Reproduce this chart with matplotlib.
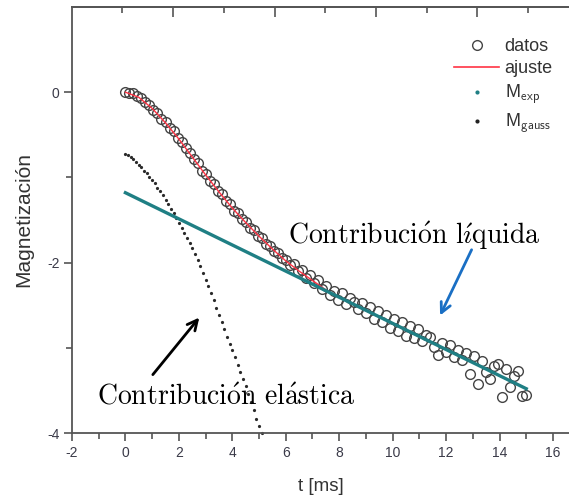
import matplotlib
matplotlib.use('Agg')
import matplotlib.pyplot as plt
from matplotlib.lines import Line2D

plt.rcParams['font.family'] = ['Liberation Sans', 'DejaVu Sans']
plt.rcParams['mathtext.fontset'] = 'cm'
plt.rcParams['axes.unicode_minus'] = False

# datos: t every 0.15 ms
t_datos = [0.00, 0.15, 0.30, 0.45, 0.60, 0.75, 0.90, 1.05, 1.20, 1.35,
           1.50, 1.65, 1.80, 1.95, 2.10, 2.25, 2.40, 2.55, 2.70, 2.85,
           3.00, 3.15, 3.30, 3.45, 3.60, 3.75, 3.90, 4.05, 4.20, 4.35,
           4.50, 4.65, 4.80, 4.95, 5.10, 5.25, 5.40, 5.55, 5.70, 5.85,
           6.00, 6.15, 6.30, 6.45, 6.60, 6.75, 6.90, 7.05, 7.20, 7.35,
           7.50, 7.65, 7.80, 7.95, 8.10, 8.25, 8.40, 8.55, 8.70, 8.85,
           9.00, 9.15, 9.30, 9.45, 9.60, 9.75, 9.90, 10.05, 10.20, 10.35,
           10.50, 10.65, 10.80, 10.95, 11.10, 11.25, 11.40, 11.55, 11.70, 11.85,
           12.00, 12.15, 12.30, 12.45, 12.60, 12.75, 12.90, 13.05, 13.20, 13.35,
           13.50, 13.65, 13.80, 13.95, 14.10, 14.25, 14.40, 14.55, 14.70, 14.85,
           15.00]
m_datos = [0.00, -0.01, -0.01, -0.05, -0.07, -0.12, -0.15, -0.21, -0.25, -0.31,
           -0.35, -0.42, -0.46, -0.54, -0.58, -0.66, -0.71, -0.79, -0.83, -0.92,
           -0.96, -1.04, -1.08, -1.16, -1.20, -1.28, -1.31, -1.39, -1.42, -1.49,
           -1.52, -1.59, -1.62, -1.69, -1.71, -1.78, -1.80, -1.86, -1.89, -1.95,
           -1.97, -2.03, -2.02, -2.10, -2.09, -2.18, -2.15, -2.24, -2.21, -2.31,
           -2.27, -2.38, -2.33, -2.44, -2.36, -2.49, -2.42, -2.46, -2.55, -2.48,
           -2.59, -2.52, -2.66, -2.57, -2.70, -2.61, -2.77, -2.66, -2.80, -2.70,
           -2.86, -2.74, -2.88, -2.78, -2.92, -2.85, -2.87, -2.99, -3.09, -2.94,
           -3.05, -2.97, -3.11, -3.02, -3.14, -3.06, -3.31, -3.10, -3.42, -3.15,
           -3.28, -3.37, -3.21, -3.19, -3.58, -3.25, -3.46, -3.33, -3.27, -3.56,
           -3.55]

# ajuste (fit)
t_ajuste = [0.0, 0.5, 1.0, 1.5, 2.0, 2.5, 3.0, 3.5, 4.0, 4.5, 5.0, 5.5, 6.0, 6.5, 7.0,
            7.5, 8.0, 8.5, 9.0, 9.5, 10.0, 10.5, 11.0, 11.5, 12.0, 12.5, 13.0, 13.5,
            14.0, 14.5, 15.0]
m_ajuste = [0.00, -0.06, -0.19, -0.36, -0.55, -0.76, -0.97, -1.17, -1.36, -1.53, -1.69,
            -1.84, -1.98, -2.10, -2.21, -2.32, -2.41, -2.49, -2.56, -2.64, -2.71, -2.79,
            -2.87, -2.94, -3.02, -3.10, -3.17, -3.25, -3.33, -3.40, -3.48]

# M_exp (straight in this scale)
t_exp = [0.0, 15.0]
m_exp = [-1.18, -3.48]

# M_gauss
t_gauss = [0.0, 0.1, 0.2, 0.3, 0.4, 0.5, 0.6, 0.7, 0.8, 0.9,
           1.0, 1.1, 1.2, 1.3, 1.4, 1.5, 1.6, 1.7, 1.8, 1.9,
           2.0, 2.1, 2.2, 2.3, 2.4, 2.5, 2.6, 2.7, 2.8, 2.9,
           3.0, 3.1, 3.2, 3.3, 3.4, 3.5, 3.6, 3.7, 3.8, 3.9,
           4.0, 4.1, 4.2, 4.3, 4.4, 4.5, 4.6, 4.7, 4.8, 4.9,
           5.0, 5.1]
m_gauss = [-0.72, -0.74, -0.76, -0.79, -0.82, -0.85, -0.88, -0.92, -0.95, -0.99,
           -1.03, -1.07, -1.12, -1.16, -1.21, -1.26, -1.31, -1.37, -1.42, -1.48,
           -1.53, -1.59, -1.65, -1.71, -1.77, -1.83, -1.90, -1.97, -2.04, -2.12,
           -2.20, -2.28, -2.36, -2.44, -2.53, -2.62, -2.70, -2.78, -2.87, -2.95,
           -3.03, -3.11, -3.20, -3.28, -3.37, -3.45, -3.54, -3.64, -3.73, -3.83,
           -3.92, -4.00]

top_major = [1.78, 5.60, 9.38, 13.16]
top_minor = [-0.13, 3.69, 7.47, 11.29, 15.07]

teal = '#1f7f84'
red = '#ff3344'
spine_c = '#555555'
tick_c = '#3a3a48'

fig = plt.figure(figsize=(5.69, 4.98), dpi=100)
ax = fig.add_axes([0.1265, 0.1305, 0.8735, 0.8555])

ax.plot(t_gauss, m_gauss, ls='none', marker='o', ms=2.3, color='#2a2a2a',
        mec='none', zorder=2, clip_on=False)
ax.plot(t_datos, m_datos, ls='none', marker='o', ms=7, mfc='none', mec='#444444',
        mew=1.0, zorder=3)
ax.plot(t_ajuste, m_ajuste, color=red, lw=1.0, zorder=4)
ax.plot(t_exp, m_exp, color=teal, lw=2.4, zorder=5)

ax.set_xlim(-2, 16.6)
ax.set_ylim(-4, 1)
ax.set_xticks([-2, 0, 2, 4, 6, 8, 10, 12, 14, 16])
ax.set_xticks([-1, 1, 3, 5, 7, 9, 11, 13, 15], minor=True)
ax.set_yticks([-4, -2, 0])
ax.set_yticks([-3, -1], minor=True)
ax.tick_params(which='major', direction='out', length=6, width=1.2, color=spine_c,
               labelsize=10, labelcolor=tick_c, pad=3)
ax.tick_params(which='minor', direction='out', length=4, width=1.2, color=spine_c)
for s in ['left', 'bottom', 'top']:
    ax.spines[s].set_color(spine_c)
    ax.spines[s].set_linewidth(1.3)
ax.spines['right'].set_visible(False)

ax2 = ax.twiny()
ax2.set_xlim(ax.get_xlim())
ax2.set_xticks(top_major)
ax2.set_xticks(top_minor, minor=True)
ax2.tick_params(which='major', direction='in', length=7, width=1.2, color=spine_c,
                labeltop=False)
ax2.tick_params(which='minor', direction='in', length=4, width=1.2, color=spine_c)
for s in ['left', 'bottom', 'right']:
    ax2.spines[s].set_visible(False)
ax2.spines['top'].set_color(spine_c)
ax2.spines['top'].set_linewidth(1.3)

ax.set_xlabel('t [ms]', fontsize=13.5, color='#333333', labelpad=13)
ax.set_ylabel('Magnetización', fontsize=15, color='#333333', labelpad=10)

handles = [
    Line2D([], [], ls='none', marker='o', ms=7, mfc='none', mec='#444444', mew=1.0),
    Line2D([], [], color=red, lw=1.2),
    Line2D([], [], ls='none', marker='o', ms=3, color=teal, mec='none'),
    Line2D([], [], ls='none', marker='o', ms=3, color='#222222', mec='none'),
]
labels = ['datos', 'ajuste', r'M$_{\mathsf{exp}}$', r'M$_{\mathsf{gauss}}$']
leg = ax.legend(handles, labels, loc='upper left', bbox_to_anchor=(445 / 569, 1 - 29 / 498),
                bbox_transform=fig.transFigure, frameon=False, fontsize=13,
                handlelength=2.5, handletextpad=0.3, labelspacing=0.28, borderpad=0)
for txt in leg.get_texts():
    txt.set_color('#333333')

ax.annotate('', xy=(2.83, -2.62), xytext=(0.96, -3.34),
            arrowprops=dict(arrowstyle='->', lw=2.0, color='black', mutation_scale=18))
ax.annotate('', xy=(11.73, -2.65), xytext=(13.0, -1.82),
            arrowprops=dict(arrowstyle='->', lw=2.0, color='#1a6fc4', mutation_scale=18))

ax.text(6.08, -1.78, r'$\mathrm{Contribuci\acute{o}n\ l\acute{\imath}quida}$',
        fontsize=20, ha='left', va='baseline', color='black')
ax.text(-1.06, -3.66, r'$\mathrm{Contribuci\acute{o}n\ el\acute{a}stica}$',
        fontsize=20, ha='left', va='baseline', color='black')

fig.savefig('out.png', dpi=100)
